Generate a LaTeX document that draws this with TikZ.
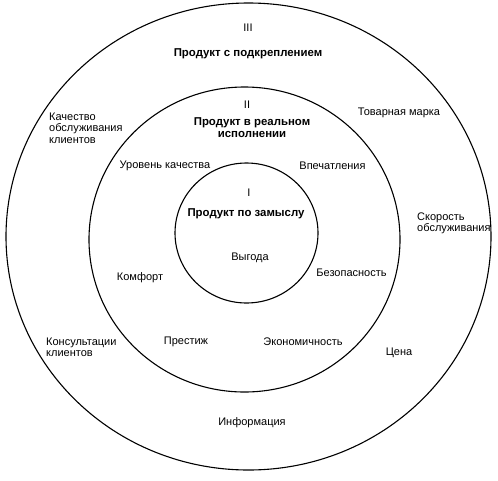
\documentclass[tikz,border=0pt]{standalone}
\usepackage{fontspec}
\setmainfont{Liberation Sans}
\tikzset{
  ring/.style={draw=black, line width=1.1pt},
  lbl/.style={inner sep=0pt, font=\fontsize{11}{11.3}\selectfont, text=black},
  ttl/.style={lbl, font=\fontsize{11.4}{11.4}\selectfont\bfseries},
  blk/.style={lbl, align=left, anchor=west}
}
\begin{document}
\begin{tikzpicture}[x=1pt,y=-1pt]
\useasboundingbox (0,0) rectangle (498,480);
\draw[ring] (248.5,236.5) ellipse [x radius=242.5, y radius=233.5];
\draw[ring] (244.5,239.5) ellipse [x radius=155.5, y radius=152.5];
\draw[ring] (246.5,233) ellipse [x radius=71.5, y radius=70];

\node[lbl] (n3) at (248,28) {III};
\node[ttl] (t3) at (248,54) {Продукт с подкреплением};
\node[lbl] (n2) at (247,105) {II};
\node[ttl, align=center] (t2) at (252,127.5) {Продукт в реальном\\исполнении};
\node[lbl] (n1) at (249,193) {I};
\node[ttl] (t1) at (246,214) {Продукт по замыслу};

\node[blk] (kach) at (49,128) {Качество\\обслуживания\\клиентов};
\node[lbl] (marka) at (399,113) {Товарная марка};
\node[lbl] (uroven) at (165,166) {Уровень качества};
\node[lbl] (vpech) at (332.5,166) {Впечатления};
\node[lbl] (vygoda) at (250,258) {Выгода};
\node[lbl] (komfort) at (140,278) {Комфорт};
\node[lbl] (bezop) at (351.5,273) {Безопасность};
\node[blk] (skor) at (417,223) {Скорость\\обслуживания};
\node[blk] (kons) at (46,347.5) {Консультации\\клиентов};
\node[lbl] (prestizh) at (186,342) {Престиж};
\node[lbl] (ekon) at (303,342) {Экономичность};
\node[lbl] (cena) at (399,353) {Цена};
\node[lbl] (info) at (252,423) {Информация};
\end{tikzpicture}
\end{document}
